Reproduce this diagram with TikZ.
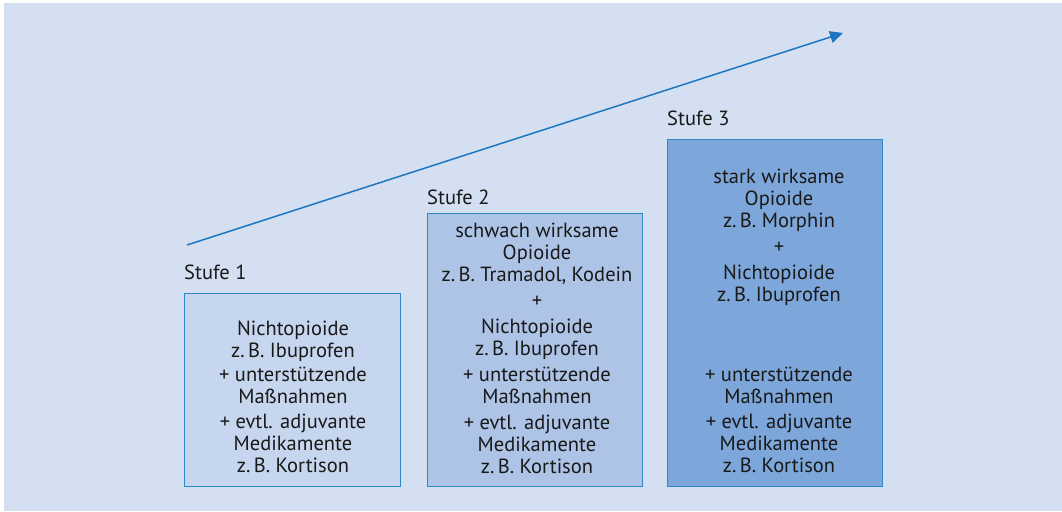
\documentclass[tikz,border=0pt]{standalone}
\usepackage{fontspec}
\setmainfont{PT Sans}
\usetikzlibrary{arrows.meta, positioning}
\definecolor{panelBlue}{RGB}{212,224,241}
\definecolor{stepOneBlue}{RGB}{198,214,238}
\definecolor{stepTwoBlue}{RGB}{173,196,231}
\definecolor{stepThreeBlue}{RGB}{125,167,218}
\definecolor{rimBlue}{RGB}{44,138,201}
\definecolor{trendBlue}{RGB}{31,118,192}
\newcommand{\stepfont}{\fontsize{20.5}{22}\selectfont}

\begin{document}
\begin{tikzpicture}[x=1pt, y=-1pt,
                    my box/.style={draw=rimBlue, line width=1pt, inner sep=0pt,
                      anchor=north west},
                    my text/.style={align=center, inner sep=0pt, anchor=base,
                      font=\stepfont, text=black!90},
                    my label/.style={inner sep=0pt, anchor=south west,
                      font=\stepfont, text=black!90},
                    my arrow/.style={-{Triangle[length=13pt, width=12pt]},
                      line width=1.5pt, draw=trendBlue}]

\useasboundingbox (0,0) rectangle (1062,511);
\fill[panelBlue] (4,3) rectangle (1062,511);

% die drei Stufen
\node[my box, fill=stepOneBlue, minimum width=216pt, minimum height=193pt]
  (stufe1) at (184,293) {};
\node[my box, fill=stepTwoBlue, minimum width=215pt, minimum height=273pt]
  (stufe2) at (427,213) {};
\node[my box, fill=stepThreeBlue, minimum width=215pt, minimum height=347pt]
  (stufe3) at (667,139) {};

\node[my label, above=13pt of stufe1.north west, anchor=south west] (label1)
  {Stufe 1};
\node[my label, above=8pt of stufe2.north west, anchor=south west] (label2)
  {Stufe 2};
\node[my label, above=13pt of stufe3.north west, anchor=south west] (label3)
  {Stufe 3};

% der Text sitzt mit der letzten Zeile auf der Grundlinie
\node[my text] (text1) at (293,472)
  {Nichtopioide\\ z.\,B. Ibuprofen\\[2pt]
   + unterstützende\\ Maßnahmen\\[3pt]
   + evtl. adjuvante\\ Medikamente\\ z.\,B. Kortison};
\node[my text] (text2) at (537,473)
  {schwach wirksame\\ Opioide\\ z.\,B. Tramadol, Kodein\\[4pt]
   +\\[4pt]
   Nichtopioide\\ z.\,B. Ibuprofen\\[4pt]
   + unterstützende\\ Maßnahmen\\[4pt]
   + evtl. adjuvante\\ Medikamente\\ z.\,B. Kortison};
\node[my text] (text3) at (779,472)
  {stark wirksame\\ Opioide\\ z.\,B. Morphin\\[4pt]
   +\\[4pt]
   Nichtopioide\\ z.\,B. Ibuprofen\\[58pt]
   + unterstützende\\ Maßnahmen\\[3pt]
   + evtl. adjuvante\\ Medikamente\\ z.\,B. Kortison};

% steigende Wirkstärke
\coordinate (trend start) at (187,245);
\coordinate (trend end) at (843,33);
\path[my arrow] (trend start) -- (trend end);
\end{tikzpicture}
\end{document}
